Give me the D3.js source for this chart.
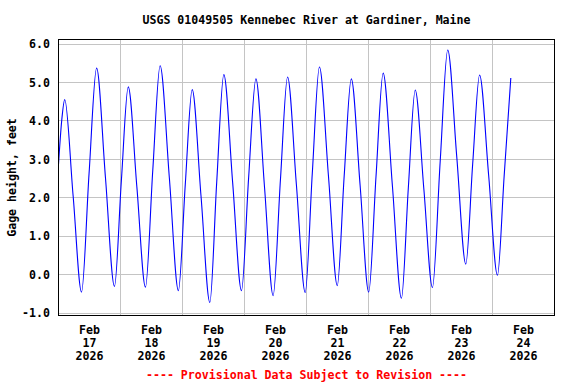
<!DOCTYPE html>
<html>
<head>
<meta charset="utf-8">
<script src="https://cdn.jsdelivr.net/npm/d3@7"></script>
<style>
  body { margin: 0; background: #fff; }
  svg text { font-family: "DejaVu Sans Mono", monospace; font-weight: bold; font-size: 11.6px; }
</style>
</head>
<body>
<svg id="chart" width="576" height="384"></svg>
<script>
const stationTitle = 'USGS 01049505 Kennebec River at Gardiner, Maine';
const yLabel = 'Gage height, feet';
const footNote = '---- Provisional Data Subject to Revision ----';

// readings (local time) and gage height, feet
const obsTimes = [
  '2026-02-17 00:00', '2026-02-17 01:15', '2026-02-17 02:25', '2026-02-17 05:40', '2026-02-17 08:55',
  '2026-02-17 11:50', '2026-02-17 14:45', '2026-02-17 18:10', '2026-02-17 21:40',
  '2026-02-18 00:20', '2026-02-18 03:00', '2026-02-18 06:20', '2026-02-18 09:40',
  '2026-02-18 12:30', '2026-02-18 15:20', '2026-02-18 18:55', '2026-02-18 22:25',
  '2026-02-19 01:05', '2026-02-19 03:45', '2026-02-19 07:10', '2026-02-19 10:35',
  '2026-02-19 13:15', '2026-02-19 16:00', '2026-02-19 19:25', '2026-02-19 22:50',
  '2026-02-20 01:35', '2026-02-20 04:25', '2026-02-20 07:45', '2026-02-20 11:05',
  '2026-02-20 13:55', '2026-02-20 16:40', '2026-02-20 20:05', '2026-02-20 23:30',
  '2026-02-21 02:15', '2026-02-21 05:00', '2026-02-21 08:30', '2026-02-21 11:55',
  '2026-02-21 14:35', '2026-02-21 17:20', '2026-02-21 20:45',
  '2026-02-22 00:05', '2026-02-22 02:55', '2026-02-22 05:40', '2026-02-22 09:15',
  '2026-02-22 12:45', '2026-02-22 15:25', '2026-02-22 18:05', '2026-02-22 21:25',
  '2026-02-23 00:45', '2026-02-23 03:45', '2026-02-23 06:40', '2026-02-23 10:10',
  '2026-02-23 13:40', '2026-02-23 16:20', '2026-02-23 19:00', '2026-02-23 22:30',
  '2026-02-24 01:55', '2026-02-24 04:30', '2026-02-24 07:05'
];
const gageFeet = [
  2.85, 4.00, 4.54, 2.03, -0.47,
  2.62, 5.36, 2.52, -0.32,
  2.43, 4.87, 2.27, -0.34,
  2.71, 5.42, 2.50, -0.43,
  2.34, 4.80, 2.03, -0.74,
  2.40, 5.19, 2.38, -0.43,
  2.49, 5.08, 2.26, -0.56,
  2.46, 5.13, 2.33, -0.48,
  2.63, 5.39, 2.55, -0.30,
  2.55, 5.08, 2.31,
  -0.47, 2.55, 5.23, 2.30,
  -0.63, 2.24, 4.79, 2.22,
  -0.35, 2.93, 5.83, 3.05,
  0.26, 2.87, 5.18, 2.58,
  -0.03, 2.54, 5.10
];

const yTicks = [-1, 0, 1, 2, 3, 4, 5, 6];
const dayLabels = ['2026-02-17', '2026-02-18', '2026-02-19', '2026-02-20',
                   '2026-02-21', '2026-02-22', '2026-02-23', '2026-02-24'];

const parseTime = d3.timeParse('%Y-%m-%d %H:%M');
const parseDay = d3.timeParse('%Y-%m-%d');
const series = obsTimes.map((t, i) => ({ date: parseTime(t), value: gageFeet[i] }));
const days = dayLabels.map(parseDay);

// ========= Layout =========
const frame = { left: 58.5, top: 39.5, right: 554.5, bottom: 315.5 };
const plotW = frame.right - frame.left;

const svg = d3.select('#chart');

// ========= Scales =========
const x = d3.scaleTime()
  .domain([days[0], d3.timeDay.offset(days[days.length - 1], 1)])
  .range([frame.left, frame.right]);

const y = d3.scaleLinear()
  .domain([-1, 6])
  .range([312.5, 43.5]);

// ========= Grid =========
const grid = svg.append('g').attr('class', 'grid');

grid.selectAll('.hgrid')
  .data(yTicks)
  .enter()
  .append('line')
  .attr('x1', frame.left).attr('x2', frame.right)
  .attr('y1', d => Math.round(y(d)) + 0.5).attr('y2', d => Math.round(y(d)) + 0.5)
  .attr('stroke', '#c4c4c4');

grid.selectAll('.vgrid')
  .data(days.slice(1))
  .enter()
  .append('line')
  .attr('x1', d => x(d)).attr('x2', d => x(d))
  .attr('y1', frame.top).attr('y2', frame.bottom)
  .attr('stroke', '#c4c4c4');

// ========= Y axis =========
const yAxis = d3.axisLeft(y)
  .tickValues(yTicks)
  .tickSize(0)
  .tickPadding(8.5)
  .tickFormat(d => d.toFixed(1));

svg.append('g')
  .attr('transform', `translate(${frame.left},0.5)`)
  .call(yAxis)
  .call(g => g.select('.domain').remove())
  .call(g => g.selectAll('text').attr('fill', '#000')
    .style('font-family', '"DejaVu Sans Mono", monospace').style('font-size', '11.6px'));

svg.append('text')
  .attr('transform', `translate(15.5,${(frame.top + frame.bottom) / 2}) rotate(-90)`)
  .attr('text-anchor', 'middle')
  .text(yLabel);

// ========= X labels =========
const xLabels = svg.append('g').attr('class', 'x-labels');
const fmtLines = [d3.timeFormat('%b'), d3.timeFormat('%d'), d3.timeFormat('%Y')];

xLabels.selectAll('text')
  .data(days)
  .enter()
  .append('text')
  .attr('text-anchor', 'middle')
  .attr('x', d => x(d3.timeHour.offset(d, 12)))
  .attr('y', 334)
  .selectAll('tspan')
  .data(d => fmtLines.map(f => f(d)))
  .enter()
  .append('tspan')
  .attr('x', function(){ return this.parentNode.getAttribute('x'); })
  .attr('dy', (d, i) => i === 0 ? 0 : 12.8)
  .text(d => d);

// ========= Data line =========
const line = d3.line()
  .x(d => x(d.date))
  .y(d => y(d.value))
  .curve(d3.curveMonotoneX);

svg.append('path')
  .datum(series)
  .attr('d', line)
  .attr('fill', 'none')
  .attr('stroke', '#0000ff')
  .attr('stroke-width', 1.1);

// ========= Frame & titles =========
svg.append('rect')
  .attr('x', frame.left).attr('y', frame.top)
  .attr('width', plotW).attr('height', frame.bottom - frame.top)
  .attr('fill', 'none')
  .attr('stroke', '#000');

svg.append('text')
  .attr('x', (frame.left + frame.right) / 2)
  .attr('y', 24)
  .attr('text-anchor', 'middle')
  .text(stationTitle);

svg.append('text')
  .attr('x', (frame.left + frame.right) / 2)
  .attr('y', 379)
  .attr('text-anchor', 'middle')
  .attr('fill', '#ff0000')
  .text(footNote);
</script>
</body>
</html>
